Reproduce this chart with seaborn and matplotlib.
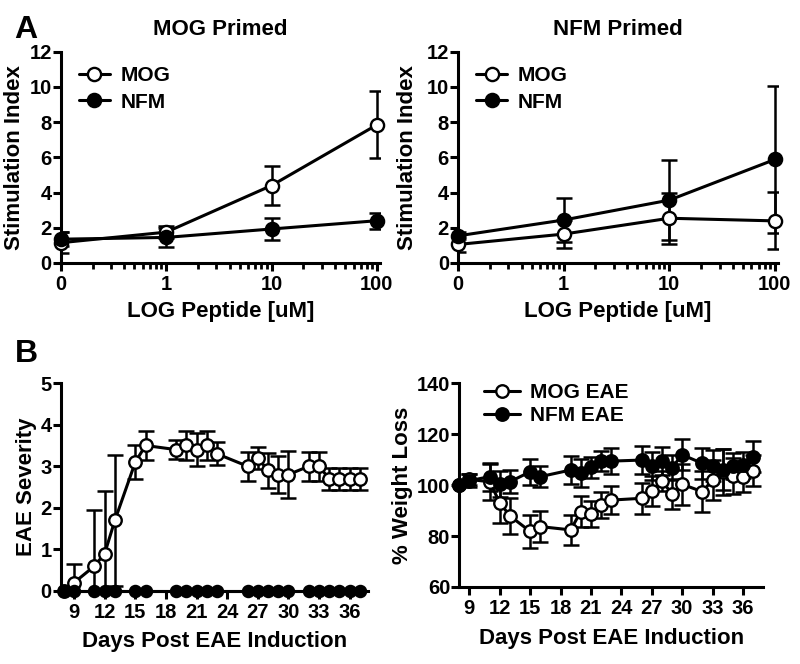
import seaborn as sns
import matplotlib.pyplot as plt
import matplotlib.ticker as mticker
import numpy as np
import pandas as pd

# Panel A: proliferation (stimulation index) vs peptide dose; "0" dose drawn at 0.1 on log axis
dose = [0.1, 1, 10, 100]
dose_labels = ["0", "1", "10", "100"]

mog_primed_mog = [1.15, 1.75, 4.4, 7.85]
mog_primed_mog_err = [0.6, 0.35, 1.12, 1.9]
mog_primed_nfm = [1.35, 1.45, 1.93, 2.4]
mog_primed_nfm_err = [0.4, 0.55, 0.63, 0.45]

nfm_primed_mog = [1.05, 1.64, 2.54, 2.39]
nfm_primed_mog_err = [0.45, 0.8, 1.46, 1.62]
nfm_primed_nfm = [1.54, 2.44, 3.57, 5.88]
nfm_primed_nfm_err = [0.2, 1.23, 2.28, 4.2]

# Panel B: clinical course
days = [8, 9, 11, 12, 13, 15, 16, 19, 20, 21, 22, 23, 26, 27, 28, 29, 30, 32, 33, 34, 35, 36, 37]

mog_score = [0, 0.2, 0.6, 0.9, 1.7, 3.1, 3.5, 3.4, 3.5, 3.4, 3.5, 3.3,
             3.0, 3.2, 2.9, 2.8, 2.8, 3.0, 3.0, 2.7, 2.7, 2.7, 2.7]
mog_score_err = [0, 0.45, 1.35, 1.5, 1.57, 0.4, 0.35, 0.22, 0.35, 0.4, 0.35, 0.28,
                 0.35, 0.27, 0.42, 0.44, 0.57, 0.35, 0.35, 0.27, 0.27, 0.27, 0.27]
nfm_score = [0] * len(days)

mog_weight = [100, 102.2, 101.3, 93.1, 87.9, 81.8, 83.7, 82.4, 89.6, 88.7, 92.2, 94.1,
              94.8, 97.7, 101.7, 96.5, 100.3, 97.4, 102.0, 105.2, 103.6, 103.3, 105.6]
mog_weight_err = [0, 2, 7, 8, 7, 6.5, 6, 6, 6, 5, 5, 5.5,
                  6, 6, 4, 6, 8, 8, 8, 9, 7, 6, 6]
nfm_weight = [100, 101.7, 103.3, 100.4, 101.3, 105.2, 103.3, 105.9, 104.8, 106.9, 109.5, 109.4,
              109.8, 107.6, 109.4, 106.8, 111.9, 108.5, 107.6, 106.1, 107.4, 107.8, 111.1]
nfm_weight_err = [0, 2.5, 5.5, 5, 4.5, 5, 4, 5.5, 5.5, 4, 4, 5,
                  5.5, 5.5, 5.5, 5, 6, 6, 6, 8, 5, 5, 6]

sns.set_style("ticks")
plt.rcParams["font.family"] = ["Liberation Sans", "DejaVu Sans"]
plt.rcParams["font.weight"] = "bold"
plt.rcParams["axes.labelweight"] = "bold"
plt.rcParams["axes.titleweight"] = "bold"
for key in ["text.color", "axes.labelcolor", "axes.edgecolor", "xtick.color", "ytick.color"]:
    plt.rcParams[key] = "black"

LABEL_SIZE = 16
TICK_SIZE = 14.5
LEGEND_SIZE = 15

fig = plt.figure(figsize=(8, 6.64), dpi=100)
ax1 = fig.add_axes([0.076, 0.604, 0.399, 0.318])
ax2 = fig.add_axes([0.5725, 0.604, 0.40, 0.318])
ax3 = fig.add_axes([0.076, 0.110, 0.384, 0.313])
ax4 = fig.add_axes([0.574, 0.116, 0.38, 0.307])


def series(ax, x, y, err, label, filled, ms=9.5):
    df = pd.DataFrame({"x": x, "y": y})
    ax.errorbar(x, y, yerr=err, fmt="none", ecolor="black", elinewidth=1.8,
                capsize=6, capthick=1.8, zorder=2)
    sns.lineplot(data=df, x="x", y="y", ax=ax, color="black", linewidth=2.2,
                 marker="o", markersize=ms, markeredgecolor="black",
                 markeredgewidth=1.7, markerfacecolor="black" if filled else "white",
                 label=label, clip_on=False, zorder=3)


def style_axis(ax, ylabel_x):
    sns.despine(ax=ax)
    for s in ["left", "bottom"]:
        ax.spines[s].set_linewidth(2.2)
    ax.tick_params(axis="both", which="major", length=5.5, width=2.2,
                   labelsize=TICK_SIZE)
    ax.tick_params(axis="y", which="major", pad=1)
    ax.tick_params(axis="x", which="major", pad=3)
    ax.tick_params(axis="both", which="minor", length=4, width=2)
    # ylabel anchor is the right edge of the rotated text
    ax.yaxis.set_label_coords(ylabel_x, 0.5)


for ax, title, mog, mog_err, nfm, nfm_err, lx in [
    (ax1, "MOG Primed", mog_primed_mog, mog_primed_mog_err, mog_primed_nfm, mog_primed_nfm_err, -0.113),
    (ax2, "NFM Primed", nfm_primed_mog, nfm_primed_mog_err, nfm_primed_nfm, nfm_primed_nfm_err, -0.125),
]:
    series(ax, dose, mog, mog_err, "MOG", False)
    series(ax, dose, nfm, nfm_err, "NFM", True)
    ax.set_xscale("log")
    ax.set_xlim(0.1, 107)
    ax.set_ylim(0, 12)
    ax.xaxis.set_major_locator(mticker.FixedLocator(dose))
    ax.xaxis.set_major_formatter(mticker.FixedFormatter(dose_labels))
    ax.xaxis.set_minor_locator(mticker.LogLocator(base=10, subs=np.arange(2, 10)))
    ax.xaxis.set_minor_formatter(mticker.NullFormatter())
    ax.yaxis.set_major_locator(mticker.MultipleLocator(2))
    ax.set_title(title, fontsize=LABEL_SIZE, fontweight="bold", pad=12)
    ax.set_xlabel("LOG Peptide [uM]", fontsize=LABEL_SIZE, fontweight="bold", labelpad=5)
    ax.set_ylabel("Stimulation Index", fontsize=LABEL_SIZE, fontweight="bold")
    style_axis(ax, lx)
    ax.legend(loc="upper left", bbox_to_anchor=(0.03, 0.97), frameon=False,
              handlelength=1.5, handletextpad=0.5, borderaxespad=0,
              labelspacing=0.35, prop={"weight": "bold", "size": LEGEND_SIZE})

# EAE severity
series(ax3, days, mog_score, mog_score_err, None, False, ms=9)
series(ax3, days, nfm_score, [0] * len(days), None, True, ms=8)
ax3.set_xlim(7.7, 37.8)
ax3.set_ylim(0, 5)
ax3.xaxis.set_major_locator(mticker.FixedLocator(list(range(9, 37, 3))))
ax3.yaxis.set_major_locator(mticker.MultipleLocator(1))
ax3.set_xlabel("Days Post EAE Induction", fontsize=LABEL_SIZE, fontweight="bold", labelpad=7)
ax3.set_ylabel("EAE Severity", fontsize=LABEL_SIZE, fontweight="bold")
style_axis(ax3, -0.078)
if ax3.get_legend():
    ax3.get_legend().remove()

# weight
series(ax4, days, mog_weight, mog_weight_err, "MOG EAE", False, ms=9)
series(ax4, days, nfm_weight, nfm_weight_err, "NFM EAE", True, ms=9)
ax4.set_xlim(8, 38)
ax4.set_ylim(60, 140)
ax4.xaxis.set_major_locator(mticker.FixedLocator(list(range(9, 37, 3))))
ax4.yaxis.set_major_locator(mticker.MultipleLocator(20))
ax4.set_xlabel("Days Post EAE Induction", fontsize=LABEL_SIZE, fontweight="bold", labelpad=7)
ax4.set_ylabel("% Weight Loss", fontsize=LABEL_SIZE, fontweight="bold")
style_axis(ax4, -0.151)
ax4.legend(loc="upper left", bbox_to_anchor=(0.055, 1.04), frameon=False,
           handlelength=1.7, handletextpad=0.5, borderaxespad=0, labelspacing=0.2,
           prop={"weight": "bold", "size": LEGEND_SIZE})

fig.text(0.018, 0.978, "A", fontsize=23, fontweight="bold", va="top")
fig.text(0.018, 0.49, "B", fontsize=23, fontweight="bold", va="top")

fig.savefig("out.png", dpi=100)
